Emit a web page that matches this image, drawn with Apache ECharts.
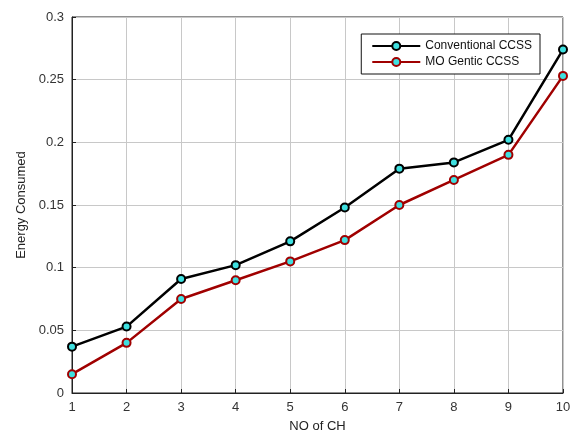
<!DOCTYPE html>
<html>
<head>
<meta charset="utf-8">
<script src="https://cdn.jsdelivr.net/npm/echarts@6/dist/echarts.min.js"></script>
<style>
  html, body { margin: 0; padding: 0; background: #fff; }
  #main { width: 587px; height: 439px; }
</style>
</head>
<body>
<div id="main"></div>
<script>
var chNo = [1, 2, 3, 4, 5, 6, 7, 8, 9, 10];
var conventional = [0.037, 0.053, 0.091, 0.102, 0.121, 0.148, 0.179, 0.184, 0.202, 0.274];
var moGentic = [0.015, 0.040, 0.075, 0.090, 0.105, 0.122, 0.150, 0.170, 0.190, 0.253];

function pairs(ys) {
    return chNo.map(function (x, i) { return [x, ys[i]]; });
}

var myChart = echarts.init(document.getElementById('main'));
var font = 'Liberation Sans, Arial, sans-serif';
option = {
    animation: false,
    textStyle: { fontFamily: font },
    grid: { left: 72, right: 24, top: 17, bottom: 46, show: true, borderColor: '#222', borderWidth: 1 },
    legend: {
        orient: 'vertical',
        right: 47,
        top: 34,
        backgroundColor: '#fff',
        borderColor: '#111',
        borderWidth: 1,
        padding: [6, 8, 6, 10],
        itemGap: 4,
        itemWidth: 48,
        itemHeight: 10,
        textStyle: { fontSize: 12, color: '#111', fontFamily: font },
        data: ['Conventional CCSS', 'MO Gentic CCSS']
    },
    xAxis: {
        type: 'value',
        min: 1, max: 10, interval: 1,
        name: 'NO of CH',
        nameLocation: 'middle',
        nameGap: 27,
        nameTextStyle: { fontSize: 13, color: '#222' },
        axisLine: { lineStyle: { color: '#222' } },
        axisTick: { inside: true, length: 4, lineStyle: { color: '#222' } },
        axisLabel: { fontSize: 13, color: '#333', margin: 8 },
        splitLine: { show: true, lineStyle: { color: '#c8c8c8' } }
    },
    yAxis: {
        type: 'value',
        min: 0, max: 0.3, interval: 0.05,
        name: 'Energy Consumed',
        nameLocation: 'middle',
        nameGap: 44,
        nameTextStyle: { fontSize: 13, color: '#222' },
        axisLine: { lineStyle: { color: '#222' } },
        axisTick: { inside: true, length: 4, lineStyle: { color: '#222' } },
        axisLabel: { fontSize: 13, color: '#333', margin: 8 },
        splitLine: { show: true, lineStyle: { color: '#c8c8c8' } }
    },
    series: [
        {
            name: 'Conventional CCSS',
            type: 'line',
            data: pairs(conventional),
            symbol: 'circle',
            symbolSize: 8,
            lineStyle: { color: '#000', width: 2.5 },
            itemStyle: { color: '#3fe0e0', borderColor: '#000', borderWidth: 2 }
        },
        {
            name: 'MO Gentic CCSS',
            type: 'line',
            data: pairs(moGentic),
            symbol: 'circle',
            symbolSize: 8,
            lineStyle: { color: '#a00000', width: 2.5 },
            itemStyle: { color: '#3fe0e0', borderColor: '#a00000', borderWidth: 2 }
        }
    ]
};
myChart.setOption(option);
</script>
</body>
</html>
